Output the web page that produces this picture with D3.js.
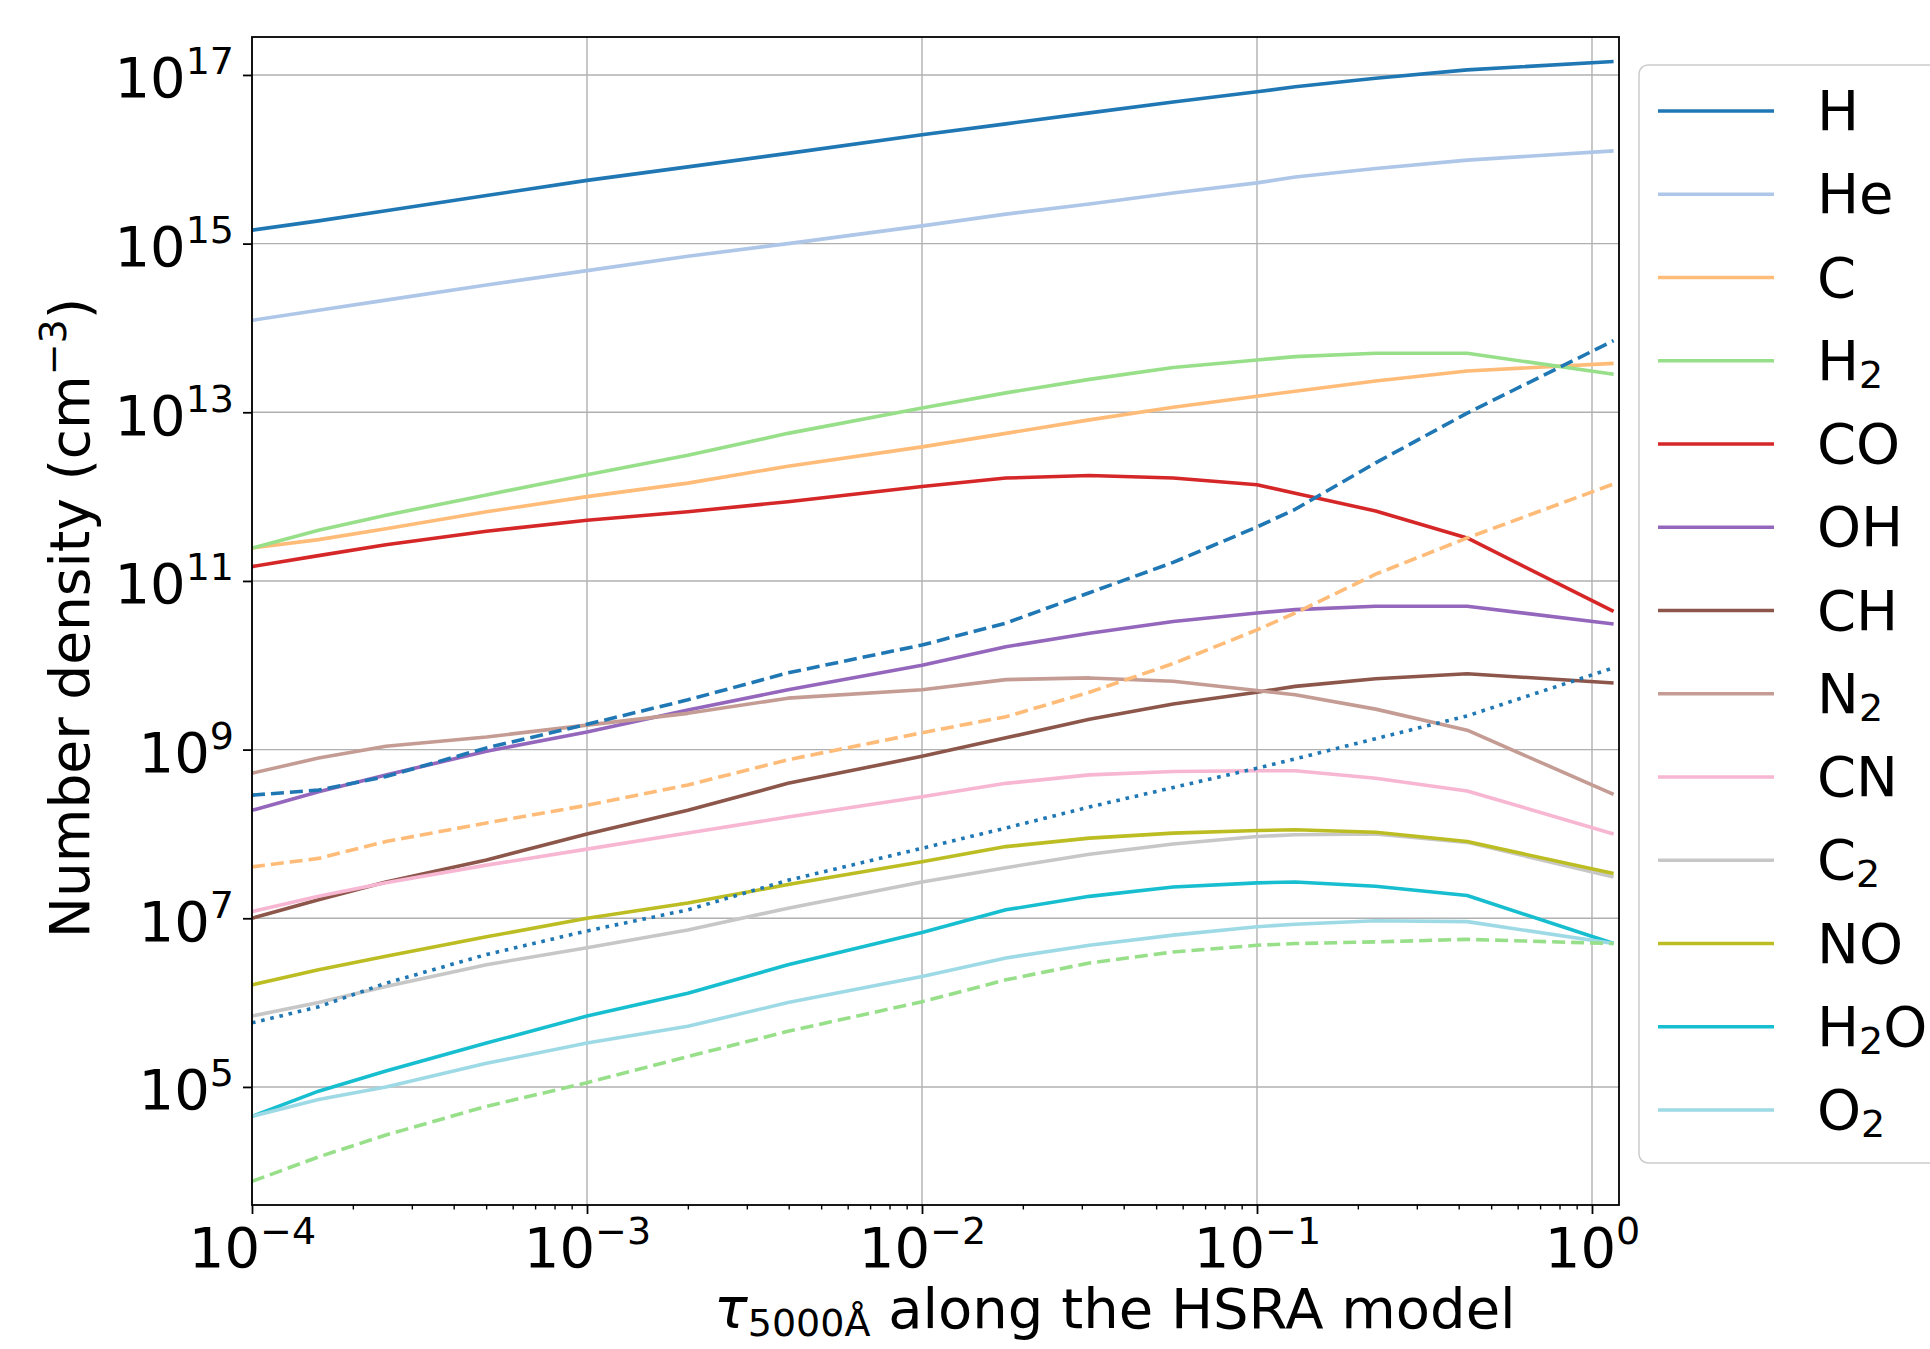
<!DOCTYPE html>
<html lang="en">
<head>
<meta charset="utf-8">
<title>Number density along HSRA</title>
<script src="https://cdn.jsdelivr.net/npm/d3@7"></script>
<style>
  body { margin: 0; background: #fff; }
  text { font-family: "DejaVu Sans", sans-serif; fill: #000; }
</style>
</head>
<body>
<div id="chart"></div>
<script>
// optical depth grid (tau at 5000 A)
var tau = [1e-4, 1.58e-4, 2.51e-4, 5.01e-4, 1e-3, 2e-3, 3.98e-3, 1e-2, 1.78e-2, 3.16e-2, 5.62e-2, 0.1, 0.13, 0.226, 0.424, 1.16];

// log10 of number density (cm^-3)
var logH    = [15.16, 15.27, 15.39, 15.57, 15.75, 15.91, 16.07, 16.29, 16.42, 16.55, 16.68, 16.80, 16.86, 16.96, 17.06, 17.16];
var logHe   = [14.09, 14.21, 14.33, 14.51, 14.68, 14.85, 15.00, 15.21, 15.35, 15.47, 15.60, 15.72, 15.79, 15.89, 15.99, 16.10];
var logC    = [11.39, 11.49, 11.62, 11.82, 12.00, 12.16, 12.36, 12.59, 12.75, 12.91, 13.06, 13.19, 13.25, 13.37, 13.49, 13.58];
var logH2   = [11.39, 11.60, 11.78, 12.02, 12.26, 12.49, 12.75, 13.05, 13.23, 13.39, 13.53, 13.62, 13.66, 13.70, 13.70, 13.45];
var logCO   = [11.17, 11.30, 11.43, 11.59, 11.72, 11.82, 11.94, 12.12, 12.22, 12.25, 12.22, 12.14, 12.04, 11.83, 11.51, 10.64];
var logOH   = [8.28, 8.50, 8.70, 8.98, 9.21, 9.47, 9.71, 10.00, 10.22, 10.38, 10.52, 10.62, 10.66, 10.70, 10.70, 10.49];
var logCH   = [7.00, 7.22, 7.43, 7.69, 8.00, 8.28, 8.60, 8.92, 9.14, 9.36, 9.54, 9.68, 9.75, 9.84, 9.90, 9.79];
var logN2   = [8.72, 8.90, 9.04, 9.15, 9.29, 9.43, 9.61, 9.71, 9.83, 9.85, 9.81, 9.70, 9.65, 9.48, 9.23, 8.47];
var logCN   = [7.08, 7.26, 7.42, 7.63, 7.82, 8.01, 8.20, 8.44, 8.60, 8.70, 8.74, 8.75, 8.75, 8.66, 8.51, 8.00];
var logC2   = [5.84, 6.00, 6.19, 6.45, 6.65, 6.86, 7.12, 7.43, 7.60, 7.76, 7.88, 7.97, 7.99, 8.00, 7.90, 7.49];
var logNO   = [6.21, 6.39, 6.55, 6.78, 7.00, 7.18, 7.40, 7.67, 7.85, 7.95, 8.01, 8.04, 8.05, 8.02, 7.91, 7.53];
var logH2O  = [4.65, 4.95, 5.19, 5.52, 5.84, 6.11, 6.45, 6.83, 7.10, 7.26, 7.37, 7.42, 7.43, 7.38, 7.27, 6.70];
var logO2   = [4.65, 4.85, 5.00, 5.28, 5.52, 5.72, 6.00, 6.31, 6.53, 6.68, 6.80, 6.90, 6.93, 6.97, 6.96, 6.70];
// unlabelled curves (dashed / dotted)
var logHdash  = [8.46, 8.52, 8.68, 9.02, 9.30, 9.59, 9.91, 10.24, 10.50, 10.86, 11.22, 11.64, 11.85, 12.40, 12.99, 13.85];
var logCdash  = [7.61, 7.71, 7.91, 8.13, 8.34, 8.58, 8.88, 9.20, 9.39, 9.68, 10.02, 10.42, 10.62, 11.08, 11.51, 12.15];
var logHdot   = [5.76, 5.95, 6.23, 6.57, 6.85, 7.10, 7.45, 7.83, 8.07, 8.32, 8.55, 8.78, 8.89, 9.13, 9.40, 9.97];
var logH2dash = [3.88, 4.17, 4.43, 4.77, 5.05, 5.36, 5.66, 6.01, 6.27, 6.47, 6.60, 6.68, 6.70, 6.72, 6.75, 6.70];

var xTickValues = [1e-4, 1e-3, 1e-2, 1e-1, 1];
var xTickExps = ["\u22124", "\u22123", "\u22122", "\u22121", "0"];
var yTickValues = [1e5, 1e7, 1e9, 1e11, 1e13, 1e15, 1e17];
var yTickExps = ["5", "7", "9", "11", "13", "15", "17"];

var series = [
	{label: "H", values: logH, color: "#1f77b4"},
	{label: "He", values: logHe, color: "#aec7e8"},
	{label: "C", values: logC, color: "#ffbb78"},
	{label: "H_2", values: logH2, color: "#98df8a"},
	{label: "CO", values: logCO, color: "#d62728"},
	{label: "OH", values: logOH, color: "#9467bd"},
	{label: "CH", values: logCH, color: "#8c564b"},
	{label: "N_2", values: logN2, color: "#c49c94"},
	{label: "CN", values: logCN, color: "#f7b6d2"},
	{label: "C_2", values: logC2, color: "#c7c7c7"},
	{label: "NO", values: logNO, color: "#bcbd22"},
	{label: "H_2O", values: logH2O, color: "#17becf"},
	{label: "O_2", values: logO2, color: "#9edae5"}
];
var extraSeries = [
	{values: logHdash, color: "#1f77b4", dash: "13,6"},
	{values: logCdash, color: "#ffbb78", dash: "13,6"},
	{values: logHdot, color: "#1f77b4", dash: "3.6,5.8"},
	{values: logH2dash, color: "#98df8a", dash: "13,6"}
];

var width = 1930, height = 1349;
var plot = {left: 252, right: 1619, top: 37, bottom: 1205};

var svg = d3.select("#chart").append("svg")
	.attr("width", width)
	.attr("height", height);

var x = d3.scaleLog().domain([1e-4, 1.204]).range([plot.left, plot.right]);
var y = d3.scaleLog().domain([Math.pow(10, 3.6), Math.pow(10, 17.45)]).range([plot.bottom, plot.top]);

// grid
var grid = svg.append("g").attr("stroke", "#b0b0b0").attr("stroke-width", 1.4);
grid.selectAll("line.gx").data(xTickValues).join("line")
	.attr("class", "gx")
	.attr("x1", d => x(d)).attr("x2", d => x(d))
	.attr("y1", plot.top).attr("y2", plot.bottom);
grid.selectAll("line.gy").data(yTickValues).join("line")
	.attr("class", "gy")
	.attr("x1", plot.left).attr("x2", plot.right)
	.attr("y1", d => y(d)).attr("y2", d => y(d));

svg.append("clipPath").attr("id", "clip")
	.append("rect")
	.attr("x", plot.left).attr("y", plot.top)
	.attr("width", plot.right - plot.left).attr("height", plot.bottom - plot.top);

var line = d3.line()
	.x((d, i) => x(tau[i]))
	.y(d => y(Math.pow(10, d)));

var lines = svg.append("g").attr("clip-path", "url(#clip)")
	.attr("fill", "none").attr("stroke-width", 3.6)
	.attr("stroke-linejoin", "round");

lines.selectAll("path.main").data(series).join("path")
	.attr("class", "main")
	.attr("stroke", d => d.color)
	.attr("d", d => line(d.values));

lines.selectAll("path.extra").data(extraSeries).join("path")
	.attr("class", "extra")
	.attr("stroke", d => d.color)
	.attr("stroke-dasharray", d => d.dash)
	.attr("d", d => line(d.values));

// frame
svg.append("rect")
	.attr("x", plot.left).attr("y", plot.top)
	.attr("width", plot.right - plot.left).attr("height", plot.bottom - plot.top)
	.attr("fill", "none").attr("stroke", "#000").attr("stroke-width", 1.8);

// x axis
var minorX = [];
[1e-4, 1e-3, 1e-2, 1e-1].forEach(function (dec) {
	for (var k = 2; k <= 9; k++) minorX.push(dec * k);
});
var gxMinor = svg.append("g")
	.attr("transform", "translate(0," + plot.bottom + ")")
	.call(d3.axisBottom(x).tickValues(minorX).tickSize(4.5).tickFormat(""));
gxMinor.select(".domain").remove();
gxMinor.selectAll(".tick line").attr("stroke", "#000").attr("stroke-width", 1.4);

var gx = svg.append("g")
	.attr("transform", "translate(0," + plot.bottom + ")")
	.call(d3.axisBottom(x).tickValues(xTickValues).tickSize(9).tickFormat(""));
gx.select(".domain").remove();
gx.selectAll(".tick line").attr("stroke", "#000").attr("stroke-width", 1.8);
gx.selectAll(".tick text")
	.attr("dy", null).attr("y", 62).attr("font-size", 56)
	.each(function (d, i) {
		var t = d3.select(this);
		t.append("tspan").text("10");
		t.append("tspan").attr("dy", -23).attr("font-size", 38).text(xTickExps[i]);
	});

// y axis
var gy = svg.append("g")
	.attr("transform", "translate(" + plot.left + ",0)")
	.call(d3.axisLeft(y).tickValues(yTickValues).tickSize(9).tickPadding(9).tickFormat(""));
gy.select(".domain").remove();
gy.selectAll(".tick line").attr("stroke", "#000").attr("stroke-width", 1.8);
gy.selectAll(".tick text")
	.attr("dy", null).attr("y", 22).attr("font-size", 56)
	.each(function (d, i) {
		var t = d3.select(this);
		t.append("tspan").text("10");
		t.append("tspan").attr("dy", -23).attr("font-size", 38).text(yTickExps[i]);
	});

// axis labels
var yl = svg.append("text")
	.attr("transform", "translate(89," + ((plot.top + plot.bottom) / 2 - 3) + ") rotate(-90)")
	.attr("text-anchor", "middle")
	.attr("font-size", 55);
yl.append("tspan").text("Number density (cm");
yl.append("tspan").attr("dy", -23).attr("font-size", 38).text("\u22123");
yl.append("tspan").attr("dy", 23).text(")");

var xl = svg.append("text")
	.attr("x", 714).attr("y", 1328)
	.attr("font-size", 56);
xl.append("tspan").attr("font-style", "italic").text("\u03c4");
xl.append("tspan").attr("dy", 8).attr("font-size", 38).text("5000\u00c5");
xl.append("tspan").attr("dy", -8).text(" along the HSRA model");

// legend
var legend = svg.append("g");
legend.append("rect")
	.attr("x", 1639).attr("y", 65)
	.attr("width", 400).attr("height", 1098)
	.attr("rx", 9)
	.attr("fill", "#fff").attr("stroke", "#cccccc").attr("stroke-width", 1.5);

var items = legend.selectAll("g.item").data(series).join("g")
	.attr("class", "item")
	.attr("transform", (d, i) => "translate(0," + (111 + i * 83.25) + ")");
items.append("line")
	.attr("x1", 1658).attr("x2", 1774)
	.attr("stroke", d => d.color).attr("stroke-width", 3.6);
items.append("text")
	.attr("x", 1817).attr("y", 19).attr("font-size", 56)
	.each(function (d) {
		var t = d3.select(this);
		var parts = d.label.split(/_(\d)/);
		parts.forEach(function (p, k) {
			if (p === "") return;
			if (k % 2 === 1) {
				t.append("tspan").attr("dy", 8).attr("font-size", 38).text(p);
			} else {
				var ts = t.append("tspan").text(p);
				if (k > 0) ts.attr("dy", -8);
			}
		});
	});
</script>
</body>
</html>
